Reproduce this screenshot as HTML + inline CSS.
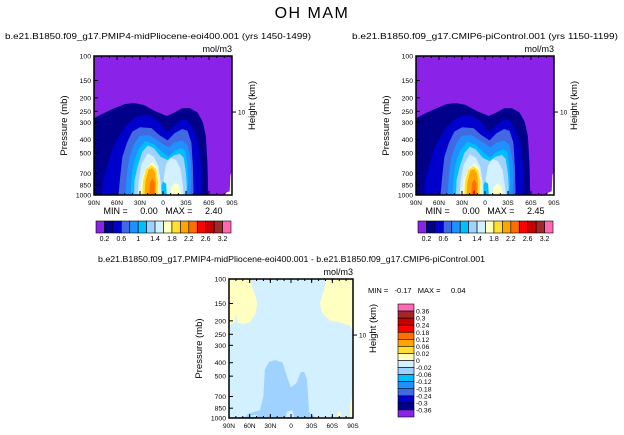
<!DOCTYPE html>
<html><head><meta charset="utf-8"><style>
html,body{margin:0;padding:0;background:#fff}
svg{display:block}
text{font-family:"Liberation Sans",Arial,sans-serif;fill:#000}
</style></head><body>
<svg id="fig" width="624" height="435" viewBox="0 0 624 435" xmlns="http://www.w3.org/2000/svg">
<text x="312" y="18" font-size="16" text-anchor="middle" letter-spacing="1.5">OH MAM</text>
</svg>
<script>
// ---- data ----
const latTicks = ["90N","60N","30N","0","30S","60S","90S"];
const latTickVals = [90,60,30,0,-30,-60,-90];
const pTicks = [100,150,200,250,300,400,500,700,850,1000];
const absLevelLabels = ["0.2","0.6","1","1.4","1.8","2.2","2.6","3.2"];
const absColors = ["#8a22e8","#00008b","#0000cd","#4169e1","#1e90ff","#00bfff","#a0d2ff","#d2f0ff","#ffffc0","#ffe030","#ffa500","#ff6e00","#ff0000","#c80000","#a02828","#ff69b4"];
const diffLevelLabels = ["0.36","0.3","0.24","0.18","0.12","0.06","0.02","0","-0.02","-0.06","-0.12","-0.18","-0.24","-0.3","-0.36"];
const diffColors = ["#ff69b4","#a02828","#c80000","#ff0000","#ff6e00","#ffa500","#ffe030","#ffffc0","#d2f0ff","#a0d2ff","#00bfff","#1e90ff","#4169e1","#0000cd","#00008b","#8a22e8"];
// contour regions: [colorIndex, [[lat,p],...]]
const plioContours = [
 [1,[[90,280],[80,262],[65,240],[50,222],[38,218],[25,225],[10,250],[-5,270],[-15,255],[-25,238],[-35,237],[-45,255],[-52,300],[-56,380],[-58,600],[-59,1000],[90,1000]]],
 [2,[[80,1000],[78,780],[72,600],[67,475],[58,380],[50,324],[38,280],[28,266],[15,270],[5,300],[-6,355],[-15,315],[-25,285],[-32,290],[-40,340],[-46,430],[-49,600],[-51,1000]]],
 [3,[[58,1000],[56,750],[53,530],[47,420],[40,350],[30,325],[15,330],[5,370],[-6,405],[-15,360],[-25,335],[-32,345],[-37,420],[-39,625],[-40,1000]]],
 [4,[[49,1000],[47,700],[44,540],[38,430],[30,375],[18,370],[8,400],[-7,455],[-15,420],[-25,405],[-32,440],[-36,560],[-37,720],[-36,1000]]],
 [5,[[42,1000],[41,740],[38,580],[32,470],[23,410],[12,430],[3,480],[-7,530],[-15,480],[-24,460],[-29,480],[-32,620],[-33,820],[-31,1000]]],
 [6,[[38,1000],[37,780],[33,620],[27,490],[20,440],[12,460],[3,530],[-6,560],[-14,520],[-22,505],[-27,540],[-30,700],[-31,880],[-30,1000]]],
 [7,[[33,1000],[32,800],[28,600],[20,500],[12,530],[6,620],[3,800],[2,1000]]],
 [7,[[0,1000],[-1,750],[-4,600],[-10,540],[-17,560],[-23,650],[-26,850],[-27,1000]]],
 [8,[[30,1000],[28,780],[22,640],[14,580],[8,630],[5,800],[5,1000]]],
 [8,[[-10,1000],[-11,880],[-16,820],[-21,850],[-24,1000]]],
 [9,[[27,1000],[26,780],[22,650],[15,607],[9,650],[6,800],[7,1000]]],
 [10,[[24,1000],[23,800],[19,660],[14,640],[10,700],[9,850],[10,1000]]],
 [11,[[18,1000],[17,820],[14,760],[11,820],[11,1000]]],
 [5,[[2,1000],[2,850],[0,800],[-4,830],[-5,1000]]]
];
const ctlContours = [
 [1,[[90,280],[80,262],[65,240],[50,222],[38,218],[25,225],[10,250],[-5,270],[-15,255],[-25,238],[-35,237],[-45,255],[-52,300],[-56,380],[-58,600],[-59,1000],[90,1000]]],
 [2,[[80,1000],[78,780],[72,600],[67,475],[58,380],[50,324],[38,280],[28,266],[15,270],[5,300],[-6,355],[-15,315],[-25,285],[-32,290],[-40,340],[-46,430],[-49,600],[-51,1000]]],
 [3,[[58,1000],[56,750],[53,530],[47,420],[40,350],[30,325],[15,330],[5,370],[-6,405],[-15,360],[-25,335],[-32,345],[-37,420],[-39,625],[-40,1000]]],
 [4,[[49,1000],[47,700],[44,540],[38,430],[30,375],[18,370],[8,400],[-7,455],[-15,420],[-25,405],[-32,440],[-36,560],[-37,720],[-36,1000]]],
 [5,[[42,1000],[41,740],[38,580],[32,475],[23,415],[12,435],[3,490],[-7,540],[-15,490],[-24,470],[-29,490],[-32,630],[-33,820],[-31,1000]]],
 [6,[[38,1000],[37,780],[33,630],[27,500],[20,450],[12,470],[3,540],[-6,570],[-14,530],[-22,515],[-27,550],[-30,710],[-31,880],[-30,1000]]],
 [7,[[33,1000],[32,800],[28,610],[20,510],[12,540],[6,630],[3,800],[2,1000]]],
 [7,[[0,1000],[-1,760],[-4,610],[-10,550],[-17,570],[-23,660],[-26,850],[-27,1000]]],
 [8,[[30,1000],[28,790],[22,650],[14,590],[8,640],[5,800],[5,1000]]],
 [8,[[-10,1000],[-11,880],[-16,830],[-21,860],[-24,1000]]],
 [9,[[27,1000],[26,790],[22,660],[15,620],[9,660],[6,800],[7,1000]]],
 [10,[[24,1000],[23,810],[19,670],[14,650],[10,710],[9,850],[10,1000]]],
 [11,[[18,1000],[17,820],[14,770],[11,830],[11,1000]]],
 [12,[[16,1000],[15,930],[13,930],[13,1000]]],
 [5,[[2,1000],[2,850],[0,800],[-4,830],[-5,1000]]]
];
const diffContours = [
 [7,[[90,100],[60,100],[52,130],[49,150],[52,180],[60,205],[70,210],[78,205],[80,175],[82,205],[90,215]]],
 [7,[[-52,100],[-90,100],[-90,235],[-85,215],[-70,205],[-57,200],[-45,175],[-42,150],[-48,120]]],
 [7,[[-86,1000],[-86,800],[-90,650],[-90,1000]]],
 [9,[[67,1000],[62,930],[45,880],[40,700],[38,450],[32,395],[23,383],[12,400],[5,520],[0,600],[-8,560],[-14,470],[-19,465],[-23,520],[-25,700],[-26,900],[-35,990],[-35,1000]]],
 [8,[[60,1000],[58,960],[50,950],[48,1000]]],
 [8,[[8,1000],[6,900],[-2,880],[-5,1000]]],
 [10,[[80,1000],[75,985],[50,980],[30,990],[10,985],[-20,990],[-32,985],[-35,1000]]],
 [7,[[-68,1000],[-68,900],[-72,900],[-72,1000]]]
];
// ---- drawing ----
const svg=document.getElementById('fig');
const NS='http://www.w3.org/2000/svg';
function mk(tag,attrs,parent){const e=document.createElementNS(NS,tag);for(const k in attrs)e.setAttribute(k,attrs[k]);(parent||svg).appendChild(e);return e;}
function txt(x,y,s,size,anchor,parent,rot){const t=mk('text',{x:x,y:y,'font-size':size,'text-anchor':anchor||'start'},parent);if(rot)t.setAttribute('transform','rotate(-90 '+x+' '+y+')');t.textContent=s;return t;}
function panel(name,x0,y0,w,h,contours,bg,colors,opts){
 const g=mk('g',{});
 
 
 const xs=lat=>x0+(90-lat)/180*w;
 const ys=p=>y0+Math.log10(p/100)*h;
 const cid=name+'-clip';
 const cp=mk('clipPath',{id:cid},g);mk('rect',{x:x0,y:y0,width:w,height:h},cp);
 const bgr=mk('rect',{x:x0,y:y0,width:w,height:h,fill:colors[bg]},g);
 
 
 const cg=mk('g',{'clip-path':'url(#'+cid+')'},g);
 contours.forEach(c=>{
  const pts=c[1].map(q=>xs(q[0]).toFixed(1)+','+ys(q[1]).toFixed(1)).join(' ');
  const poly=mk('polygon',{points:pts,fill:colors[c[0]]},cg);
  
  
 });
 if(opts.missing){const m=mk('polygon',{points:[[-80,1000],[-83,960],[-87,940],[-88,720],[-90,660],[-90,1000]].map(q=>xs(q[0])+','+ys(q[1])).join(' '),fill:'#fff'},cg);
  
  }
 const fr=mk('rect',{x:x0,y:y0,width:w,height:h,fill:'none',stroke:'#000','stroke-width':1.5},g);
 
 
 latTickVals.forEach((v,i)=>{
  const x=xs(v);
  mk('line',{x1:x,x2:x,y1:y0+h,y2:y0+h-4,stroke:'#000'},g);
  mk('line',{x1:x,x2:x,y1:y0,y2:y0+4,stroke:'#000'},g);
  const t=txt(x,y0+h+10,latTicks[i],6.5,'middle',g);
  
  
 });
 for(let v=90;v>=-90;v-=10){const x=xs(v);mk('line',{x1:x,x2:x,y1:y0+h,y2:y0+h-2,stroke:'#000'},g);mk('line',{x1:x,x2:x,y1:y0,y2:y0+2,stroke:'#000'},g);}
 pTicks.forEach(p=>{
  const y=ys(p);
  mk('line',{x1:x0,x2:x0+4,y1:y,y2:y,stroke:'#000'},g);
  const t=txt(x0-3,y+2.5,String(p),6.8,'end',g);
  
  
 });
 const y10=ys(opts.p10);
 mk('line',{x1:x0+w,x2:x0+w+4,y1:y10,y2:y10,stroke:'#000'},g);
 txt(x0+w+6,y10+2.5,'10',6.5,'start',g);
 const yt=txt(x0-27,y0+h/2,'Pressure  (mb)',9.5,'middle',g,true);
 
 
 const rt=txt(x0+w+23,y0+h/2-20,'Height  (km)',9.5,'middle',g,true);
 
 
 const u=txt(x0+w,y0-4,'mol/m3',9,'end',g);
 
 
 const tt=txt(opts.tx,y0-17,opts.title,8.5,'start',g);
 tt.setAttribute('textLength',opts.tlen);
 tt.setAttribute('lengthAdjust','spacingAndGlyphs');
 
 
 if(opts.minmax){const mm=txt(x0+w/2,y0+h+19,opts.minmax,9,'middle',g);mm.style.whiteSpace='pre';}
}
function hbar(name,x0,y0,w,h,colors,labels){
 const g=mk('g',{});
 
 
 const bw=w/colors.length;
 colors.forEach((c,i)=>{const r=mk('rect',{x:x0+i*bw,y:y0,width:bw,height:h,fill:c,stroke:'#000','stroke-width':0.6},g);
  
  });
 labels.forEach((l,i)=>{const t=txt(x0+(2*i+1)*bw,y0+h+8,l,7,'middle',g);
  
  });
}
function vbar(name,x0,y0,w,h,colors,labels){
 const g=mk('g',{});
 
 
 const bh=h/colors.length;
 colors.forEach((c,i)=>{const r=mk('rect',{x:x0,y:y0+i*bh,width:w,height:bh,fill:c,stroke:'#000','stroke-width':0.6},g);
  
  });
 labels.forEach((l,i)=>{const t=txt(x0+w+2,y0+(i+1)*bh+2.5,l,6.8,'start',g);
  
  });
}
panel('panel-midpliocene',94,56,138,139,plioContours,0,absColors,{p10:253,missing:true,tx:5,tlen:306,title:'b.e21.B1850.f09_g17.PMIP4-midPliocene-eoi400.001  (yrs 1450-1499)',minmax:'MIN =     0.00   MAX =     2.40'});
panel('panel-picontrol',416,56,138,139,ctlContours,0,absColors,{p10:253,missing:true,tx:352,tlen:266,title:'b.e21.B1850.f09_g17.CMIP6-piControl.001  (yrs 1150-1199)',minmax:'MIN =     0.00   MAX =     2.45'});
hbar('colorbar-midpliocene',96,221,135,12,absColors,absLevelLabels);
hbar('colorbar-picontrol',418,221,135,12,absColors,absLevelLabels);
panel('panel-difference',229,279,124,139,diffContours,8,diffColors,{p10:253,tx:98,tlen:387,title:'b.e21.B1850.f09_g17.PMIP4-midPliocene-eoi400.001  -  b.e21.B1850.f09_g17.CMIP6-piControl.001'});
const mm=txt(368,293,'MIN =   -0.17   MAX =     0.04',7.5,'start');


mm.style.whiteSpace='pre';
vbar('colorbar-difference',398,304,16,113,diffColors,diffLevelLabels);
</script>
</body></html>
